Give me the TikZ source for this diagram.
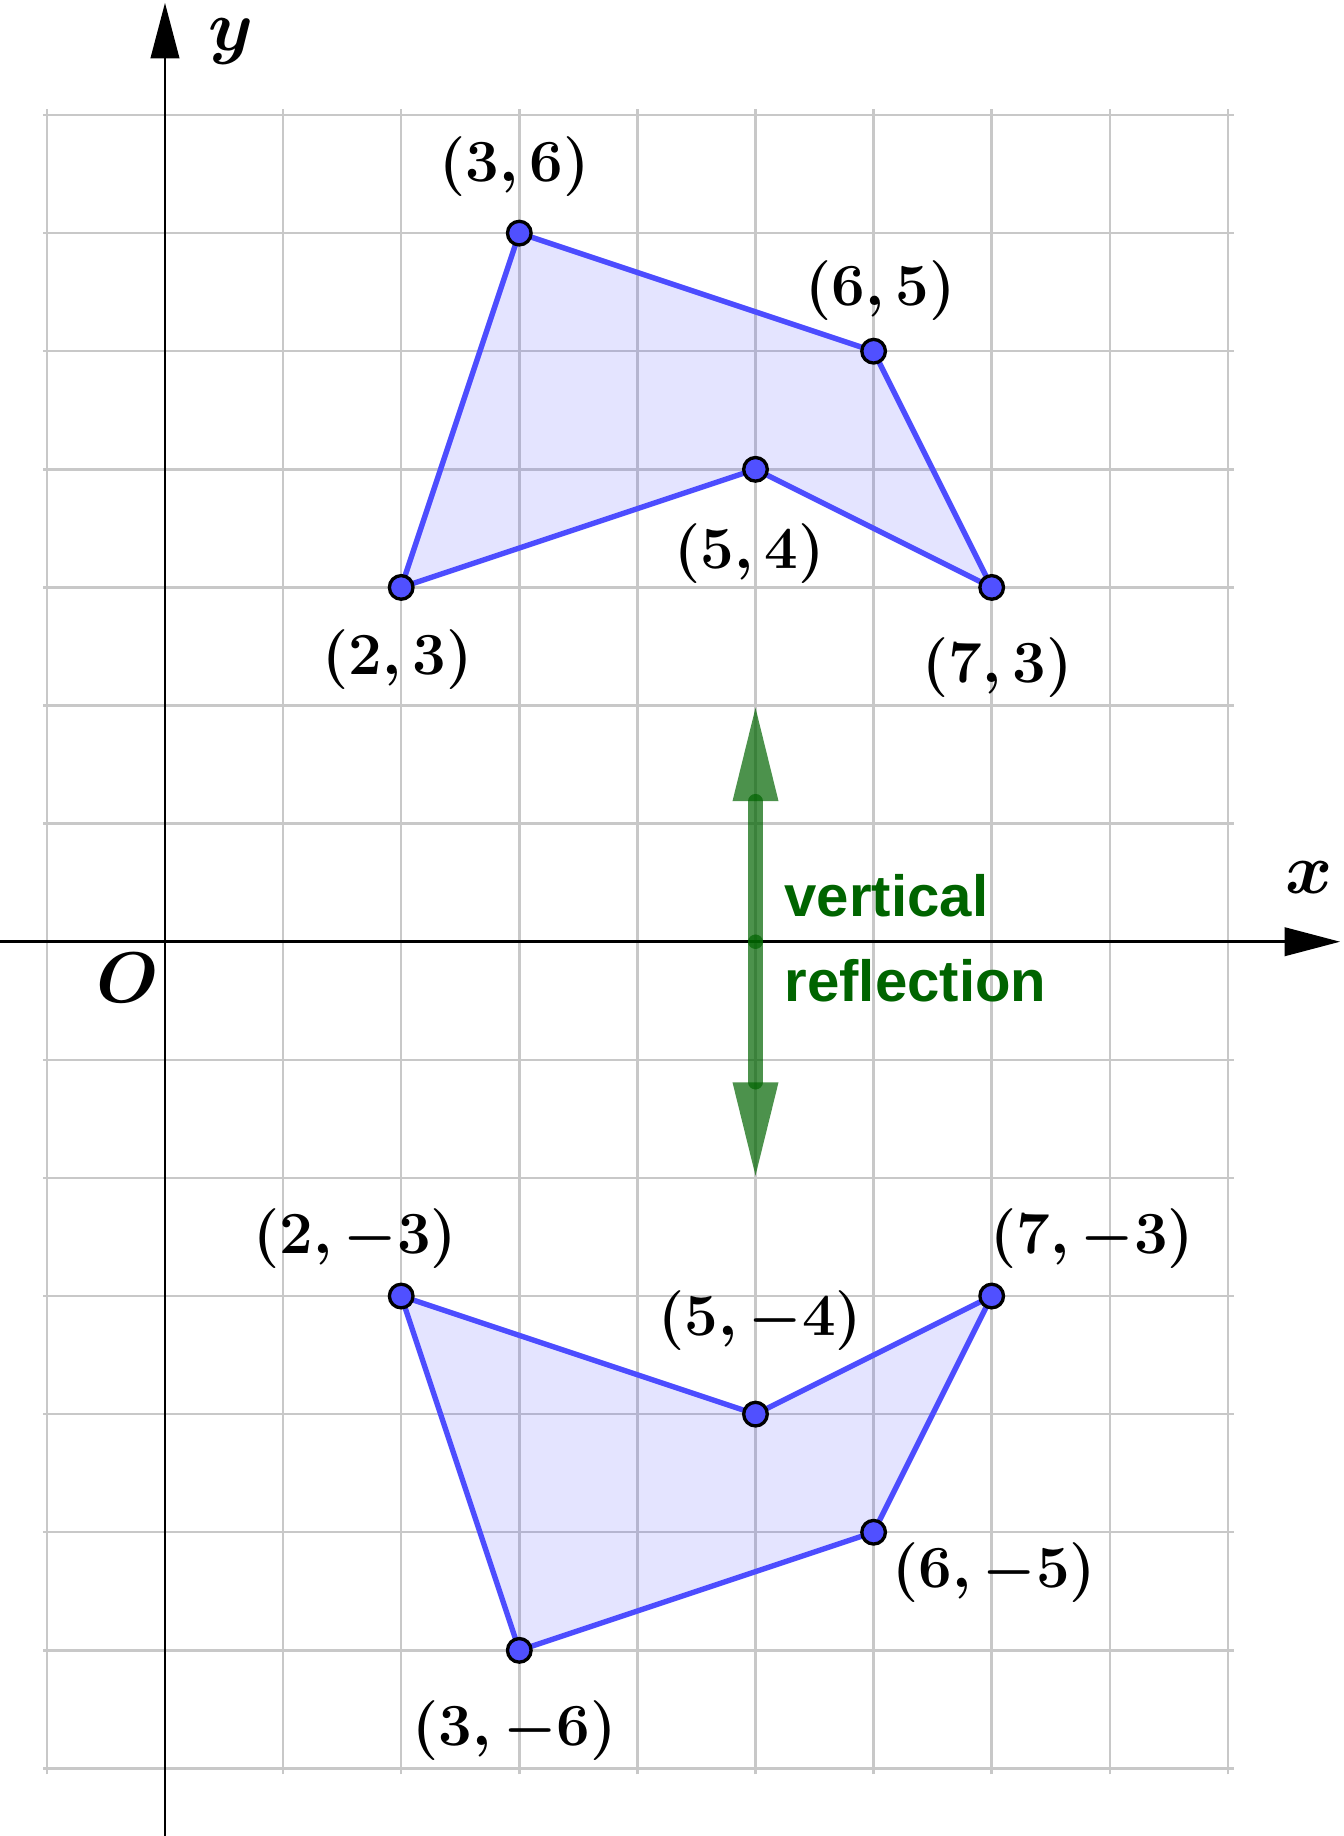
\documentclass[tikz,border=0pt]{standalone}
\usepackage{amsmath}
\usepackage{fontspec}
\newfontfamily\notefont{Liberation Sans}
\usetikzlibrary{arrows.meta}

\definecolor{ptblue}{RGB}{80,80,255}
\definecolor{edgeblue}{RGB}{77,77,255}
\definecolor{gridgray}{RGB}{200,200,200}
\definecolor{notegreen}{RGB}{0,100,0}

\begin{document}
\begin{tikzpicture}[>={Triangle[length=4.7mm,width=2.4mm]},
    dot/.style={circle, draw=black, fill=ptblue, line width=0.8pt, inner sep=0pt, minimum size=2mm},
    polyshape/.style={edgeblue, line width=1.3pt, line join=round, fill=edgeblue, fill opacity=0.15},
    coordlabel/.style={font=\fontsize{15.5}{19}\selectfont\boldmath},
    axislabel/.style={inner sep=0pt, font=\fontsize{16.5}{20}\selectfont\boldmath},
    note/.style={notegreen, anchor=base west, inner sep=0pt, font=\notefont\bfseries\fontsize{14}{20}\selectfont},
    flip/.style={notegreen, opacity=0.7, line width=3.5pt, line cap=round, -{Triangle[length=7.9mm,width=3.9mm,line width=0pt]}}]
    \useasboundingbox (-1.397,-7.572) rectangle (9.983,7.974);

    % grid
    \foreach \x in {-1,...,9}
        \draw[gridgray, line width=0.6pt] (\x,-7.05) -- (\x,7.05);
    \foreach \y in {-7,...,7}
        \draw[gridgray, line width=0.6pt] (-1.03,\y) -- (9.05,\y);

    % axes
    \coordinate (xstart) at (-1.397,0);
    \coordinate (xend) at (9.95,0);
    \coordinate (ystart) at (0,-7.572);
    \coordinate (yend) at (0,7.95);
    \draw[->, line width=0.7pt] (xstart) -- (xend);
    \draw[->, line width=0.7pt] (ystart) -- (yend);
    \node[axislabel] (xlab) at (9.69,0.54) {$x$};
    \node[axislabel] (ylab) at (0.56,7.62) {$y$};
    \node[axislabel] (olab) at (-0.32,-0.31) {$O$};

    % original shape
    \coordinate (A) at (2,3);
    \coordinate (B) at (3,6);
    \coordinate (C) at (6,5);
    \coordinate (D) at (7,3);
    \coordinate (E) at (5,4);
    \draw[polyshape] (A) -- (B) -- (C) -- (D) -- (E) -- cycle;

    % reflected shape
    \coordinate (Ar) at (2,-3);
    \coordinate (Br) at (3,-6);
    \coordinate (Cr) at (6,-5);
    \coordinate (Dr) at (7,-3);
    \coordinate (Er) at (5,-4);
    \draw[polyshape] (Ar) -- (Br) -- (Cr) -- (Dr) -- (Er) -- cycle;

    % reflection arrow
    \coordinate (mid) at (5,0);
    \coordinate (up) at (5,1.98);
    \coordinate (down) at (5,-1.98);
    \draw[flip] (mid) -- (up);
    \draw[flip] (mid) -- (down);
    \node[note] (vtxt) at (5.24,0.215) {vertical};
    \node[note] (rtxt) at (5.24,-0.51) {reflection};

    % points
    \foreach \p in {A,B,C,D,E,Ar,Br,Cr,Dr,Er}
        \node[dot] (dot\p) at (\p) {};

    % labels
    \node[coordlabel] (lA) at (1.97,2.39) {$(2,3)$};
    \node[coordlabel] (lB) at (2.96,6.56) {$(3,6)$};
    \node[coordlabel] (lC) at (6.06,5.51) {$(6,5)$};
    \node[coordlabel] (lD) at (7.05,2.32) {$(7,3)$};
    \node[coordlabel] (lE) at (4.95,3.29) {$(5,4)$};
    \node[coordlabel] (lAr) at (1.61,-2.51) {$(2,-3)$};
    \node[coordlabel] (lBr) at (2.96,-6.68) {$(3,-6)$};
    \node[coordlabel] (lCr) at (7.02,-5.34) {$(6,-5)$};
    \node[coordlabel] (lDr) at (7.85,-2.51) {$(7,-3)$};
    \node[coordlabel] (lEr) at (5.04,-3.21) {$(5,-4)$};
\end{tikzpicture}
\end{document}
